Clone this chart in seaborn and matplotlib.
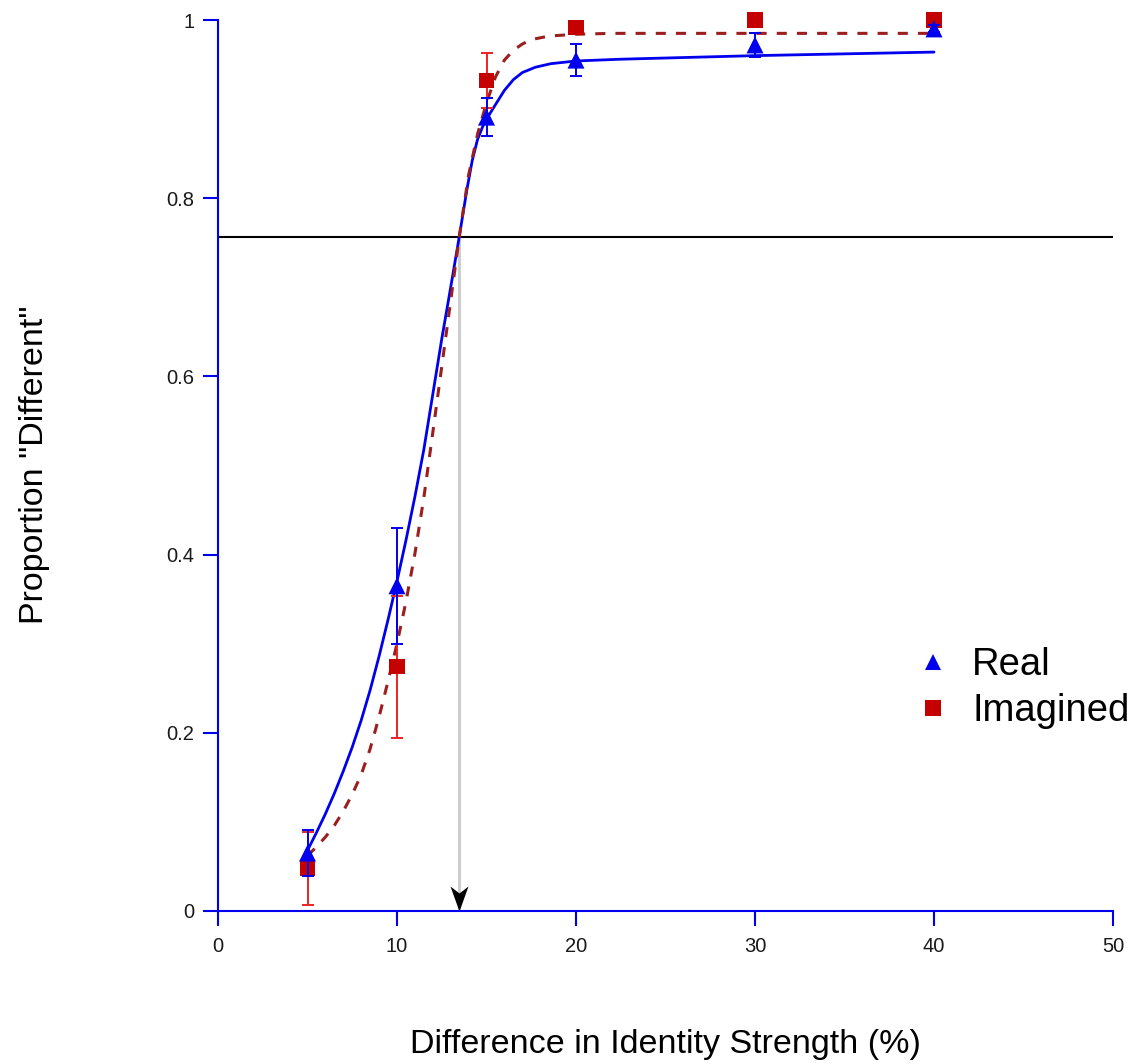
import matplotlib
matplotlib.use("Agg")
import matplotlib.pyplot as plt
from matplotlib.lines import Line2D
from matplotlib.path import Path
import pandas as pd
import seaborn as sns

# Mean proportion of "different" responses at each identity-strength difference
diff_levels = [5, 10, 15, 20, 30, 40]
real_mean = [0.065, 0.365, 0.891, 0.955, 0.972, 0.990]
real_sem = [0.026, 0.065, 0.021, 0.018, 0.013, 0.004]
imagined_mean = [0.048, 0.274, 0.932, 0.992, 1.000, 1.000]
imagined_sem = [0.041, 0.080, 0.031, 0.006, 0.000, 0.000]

# Fitted psychometric functions
real_fit_x = [5.0, 5.5, 6.0, 6.5, 7.0, 7.5, 8.0, 8.5, 9.0, 9.5, 10.0, 10.5, 11.0,
              11.5, 12.0, 12.5, 13.0, 13.48, 13.9, 14.2, 14.5, 14.8, 15.1, 15.5,
              16.0, 16.5, 17.0, 17.73, 18.6, 20.0, 22.5, 30.0, 40.0]
real_fit_y = [0.068, 0.088, 0.109, 0.132, 0.157, 0.184, 0.214, 0.248, 0.286, 0.327,
              0.370, 0.416, 0.465, 0.518, 0.580, 0.642, 0.700, 0.757, 0.809, 0.842,
              0.866, 0.881, 0.892, 0.905, 0.921, 0.933, 0.941, 0.947, 0.951, 0.954,
              0.956, 0.960, 0.964]
imagined_fit_x = [5.0, 5.5, 6.0, 6.5, 7.0, 7.5, 8.0, 8.5, 9.0, 9.5, 10.0, 10.5,
                  11.0, 11.5, 12.0, 12.5, 13.0, 13.48, 14.0, 14.5, 15.0, 15.5, 16.0,
                  16.5, 17.0, 17.5, 18.5, 20.0, 22.0, 30.0, 40.0]
imagined_fit_y = [0.062, 0.072, 0.083, 0.096, 0.112, 0.131, 0.153, 0.182, 0.218,
                  0.258, 0.300, 0.347, 0.401, 0.464, 0.537, 0.611, 0.685, 0.757,
                  0.826, 0.872, 0.907, 0.936, 0.955, 0.966, 0.973, 0.978, 0.982,
                  0.984, 0.985, 0.985, 0.985]

# 75% threshold criterion and the corresponding difference
threshold_y = 0.757
threshold_x = 13.46

x_ticks = [0, 10, 20, 30, 40, 50]
y_ticks = [0, 0.2, 0.4, 0.6, 0.8, 1.0]
y_tick_labels = ["0", "0.2", "0.4", "0.6", "0.8", "1"]

BLUE = "#0000ee"
SQUARE_RED = "#c40000"
ERR_RED = "#ee2222"
CURVE_RED = "#9c1f1f"

sns.set_theme(style="white")
plt.rcParams["font.family"] = ["Liberation Sans", "DejaVu Sans"]
plt.rcParams["text.color"] = "black"

points = pd.DataFrame({
    "diff": diff_levels * 2,
    "prop": real_mean + imagined_mean,
    "sem": real_sem + imagined_sem,
    "condition": ["Real"] * len(diff_levels) + ["Imagined"] * len(diff_levels),
})
fits = pd.DataFrame({
    "diff": real_fit_x + imagined_fit_x,
    "prop": real_fit_y + imagined_fit_y,
    "condition": ["Real"] * len(real_fit_x) + ["Imagined"] * len(imagined_fit_x),
})

fig = plt.figure(figsize=(11.35, 10.64), dpi=100)
ax = fig.add_axes([218 / 1135, 153 / 1064, 895 / 1135, 891 / 1064])

# criterion line and threshold marker
ax.axhline(threshold_y, color="black", lw=1.5, zorder=1)
ax.vlines(threshold_x, 0, threshold_y, color="#cdcdcd", lw=2.2, zorder=1)
arrow_head = Path([(0, 0), (-0.36, 1.0), (0, 0.72), (0.36, 1.0), (0, 0)],
                  [Path.MOVETO, Path.LINETO, Path.LINETO, Path.LINETO, Path.CLOSEPOLY])
ax.plot([threshold_x], [0], marker=arrow_head, ms=36, color="black",
        markeredgewidth=0, linestyle="none", zorder=6, clip_on=False)

# fitted curves
real_fit = fits[fits["condition"] == "Real"]
imag_fit = fits[fits["condition"] == "Imagined"]
sns.lineplot(data=real_fit, x="diff", y="prop", ax=ax, color=BLUE, lw=2.0,
             sort=False, zorder=2)
ax.lines[-1].set_solid_joinstyle("round")
sns.lineplot(data=imag_fit, x="diff", y="prop", ax=ax, color=CURVE_RED, lw=2.2,
             sort=False, zorder=2)
ax.lines[-1].set_dashes((3.3, 3.3))

# observed means with error bars
real_pts = points[points["condition"] == "Real"]
imag_pts = points[points["condition"] == "Imagined"]
ax.errorbar(imag_pts["diff"], imag_pts["prop"], yerr=imag_pts["sem"], fmt="none",
            ecolor=ERR_RED, elinewidth=1.4, capsize=4.5, capthick=1.4,
            zorder=3, clip_on=False)
sns.scatterplot(data=imag_pts, x="diff", y="prop", ax=ax, marker="s", s=120,
                color=SQUARE_RED, edgecolor="none", zorder=4, clip_on=False,
                legend=False)
ax.errorbar(real_pts["diff"], real_pts["prop"], yerr=real_pts["sem"], fmt="none",
            ecolor=BLUE, elinewidth=1.4, capsize=4.5, capthick=1.4,
            zorder=5, clip_on=False)
sns.scatterplot(data=real_pts, x="diff", y="prop", ax=ax, marker="^", s=150,
                color=BLUE, edgecolor="none", zorder=5, clip_on=False,
                legend=False)

ax.set_xlim(0, 50)
ax.set_ylim(0, 1)
ax.set_xticks(x_ticks)
ax.set_xticklabels([str(t) for t in x_ticks])
ax.set_yticks(y_ticks)
ax.set_yticklabels(y_tick_labels)

for side in ("top", "right"):
    ax.spines[side].set_visible(False)
for side in ("left", "bottom"):
    ax.spines[side].set_color(BLUE)
    ax.spines[side].set_linewidth(1.5)
    ax.spines[side].set_zorder(7)
ax.tick_params(axis="both", direction="out", length=11, width=1.5, color=BLUE,
               labelsize=14.5, labelcolor="#1a1a1a", left=True, bottom=True)
ax.tick_params(axis="y", pad=6)
ax.tick_params(axis="x", pad=8)

ax.set_xlabel("Difference in Identity Strength (%)", fontsize=24.5,
              color="black", va="center")
ax.set_ylabel('Proportion "Different"', fontsize=24.5, color="black",
              va="center")
ax.xaxis.set_label_coords((665 - 218) / 895, (911 - 1045) / 891)
ax.yaxis.set_label_coords((35 - 218) / 895, (911 - 465) / 891)

handles = [
    Line2D([], [], marker="^", color=BLUE, linestyle="none", ms=12, markeredgewidth=0),
    Line2D([], [], marker="s", color=SQUARE_RED, linestyle="none", ms=11, markeredgewidth=0),
]
leg = ax.legend(handles, ["Real", "Imagined"], loc="upper left",
                bbox_to_anchor=(914 / 1135, 1 - 647 / 1064),
                bbox_transform=fig.transFigure, frameon=False, fontsize=27.5,
                handlelength=1.0, handletextpad=0.52, borderpad=0,
                borderaxespad=0, labelspacing=0.26)
for txt in leg.get_texts():
    txt.set_color("black")

fig.savefig("out.png", dpi=100, facecolor="white")
